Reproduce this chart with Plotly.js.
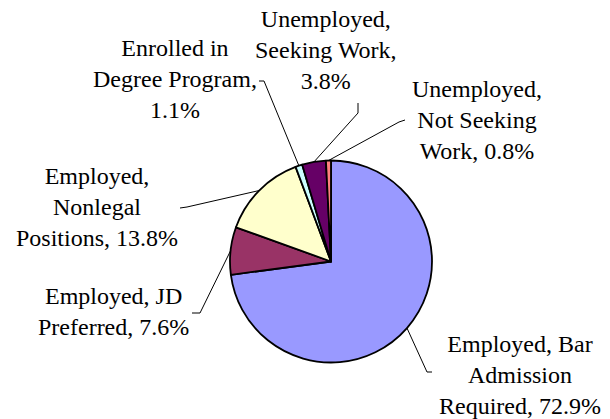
<!DOCTYPE html>
<html>
<head>
<meta charset="utf-8">
<script src="https://cdn.plot.ly/plotly-3.0.1.min.js"></script>
<style>
html,body{margin:0;padding:0;background:#fff;}
#chart{width:610px;height:419px;}
</style>
</head>
<body>
<div id="chart"></div>
<script>
// ---- data ----
var categories = [
  "Employed, Bar Admission Required",
  "Employed, JD Preferred",
  "Employed, Nonlegal Positions",
  "Enrolled in Degree Program",
  "Unemployed, Seeking Work",
  "Unemployed, Not Seeking Work"
];
var shares = [72.9, 7.6, 13.8, 1.1, 3.8, 0.8];
var labelTexts = [
  "Employed, Bar<br>Admission<br>Required, 72.9%",
  "Employed, JD<br>Preferred, 7.6%",
  "Employed,<br>Nonlegal<br>Positions, 13.8%",
  "Enrolled in<br>Degree Program,<br>1.1%",
  "Unemployed,<br>Seeking Work,<br>3.8%",
  "Unemployed,<br>Not Seeking<br>Work, 0.8%"
];
var sliceColors = ["#9999FF", "#993366", "#FFFFCC", "#CCFFFF", "#660066", "#FF8080"];

// ---- layout (pixels) ----
var W = 610, H = 419;
var pieLeft = 230, pieRight = 432, pieTop = 160, pieBottom = 363;
var cx = (pieLeft + pieRight) / 2, cy = (pieTop + pieBottom) / 2;
var R = Math.min(pieRight - pieLeft, pieBottom - pieTop) / 2;
var labelPos = [[520, 375], [113, 311], [97, 207], [175, 79], [326, 50], [477, 120]];
var elbows = [
  [[427, 372], [432, 372]],
  [[200, 313], [192, 313]],
  [[187, 207], [180, 208]],
  [[264, 81], [259, 81]],
  [[358, 113], [358, 103]],
  [[399, 122], [405, 120]]
];

function px(x) { return x / W; }
function py(y) { return 1 - y / H; }

var total = shares.reduce(function (a, b) { return a + b; }, 0);
var shapes = [], annotations = [];
var cum = 0;
for (var i = 0; i < shares.length; i++) {
  var mid = (cum + shares[i] / 2) / total * 2 * Math.PI;
  cum += shares[i];
  var sx = cx + R * Math.sin(mid), sy = cy - R * Math.cos(mid);
  var path = "M" + px(sx) + "," + py(sy);
  elbows[i].forEach(function (p) { path += " L" + px(p[0]) + "," + py(p[1]); });
  shapes.push({type: "path", xref: "paper", yref: "paper", path: path,
    line: {color: "#000", width: 1}});
  annotations.push({xref: "paper", yref: "paper", x: px(labelPos[i][0]), y: py(labelPos[i][1]),
    xanchor: "center", yanchor: "middle", showarrow: false, text: labelTexts[i], align: "center",
    font: {family: "Liberation Serif", size: 24, color: "#000"}});
}

var trace = {
  type: "pie",
  labels: categories,
  values: shares,
  sort: false,
  direction: "clockwise",
  rotation: 0,
  textinfo: "none",
  hoverinfo: "none",
  showlegend: false,
  marker: {colors: sliceColors, line: {color: "#000", width: 1.8}},
  domain: {x: [px(pieLeft), px(pieRight)], y: [py(pieBottom), py(pieTop)]}
};

var layout = {
  width: W, height: H,
  margin: {l: 0, r: 0, t: 0, b: 0},
  paper_bgcolor: "#fff", plot_bgcolor: "#fff",
  font: {family: "Liberation Serif"},
  showlegend: false,
  shapes: shapes,
  annotations: annotations
};

Plotly.newPlot("chart", [trace], layout, {staticPlot: true});
</script>
</body>
</html>
